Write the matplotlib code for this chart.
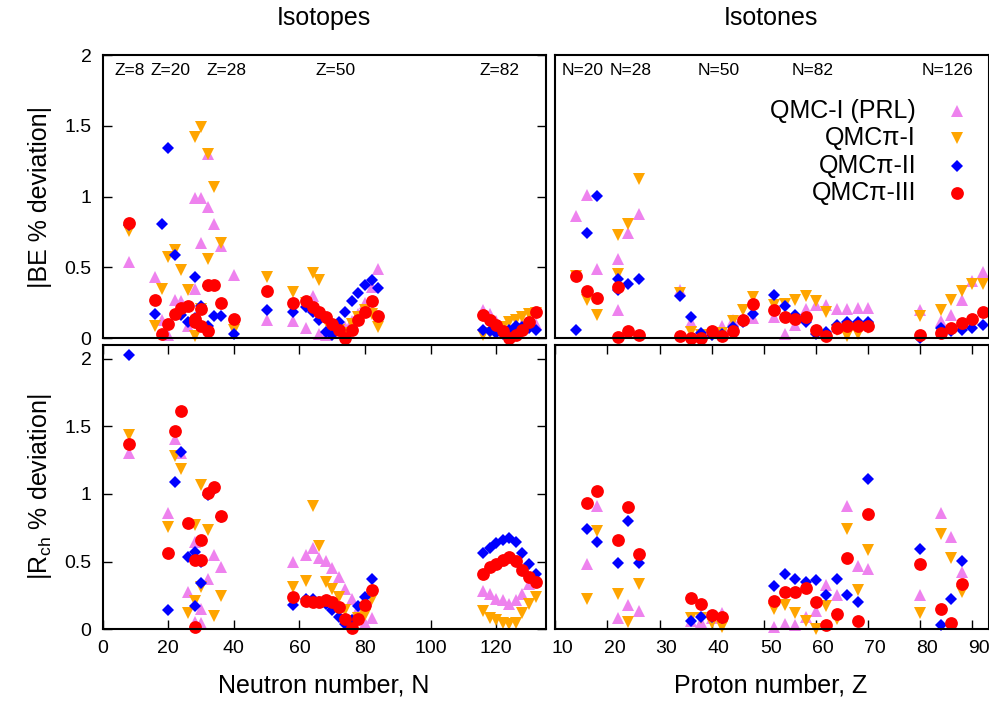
import matplotlib
matplotlib.use("Agg")
import matplotlib.pyplot as plt
import matplotlib.transforms as mtransforms
from matplotlib.lines import Line2D

plt.rcParams["font.family"] = ["Liberation Sans", "DejaVu Sans"]
plt.rcParams["mathtext.fontset"] = "custom"
plt.rcParams["mathtext.rm"] = "Liberation Sans"

SERIES = ["QMC-I (PRL)", "QMCπ-I", "QMCπ-II", "QMCπ-III"]

# |BE| deviation, isotope chains (O, Ca, Ni, Sn, Pb) vs neutron number
BE_N = [8,
        16, 18, 20, 22, 24, 26, 28, 30, 32,
        28, 30, 32, 34, 36, 40,
        50, 58, 62, 64, 66, 68, 70, 72, 74, 76, 78, 80, 82, 84,
        116, 118, 120, 122, 124, 126, 128, 130, 132]
BE_N_PRL = [0.54,
            0.43, 0.13, 0.02, 0.27, 0.26, 0.09, 0.35, 0.67, 0.93,
            0.99, 0.99, 1.30, 0.81, 0.65, 0.45,
            0.13, 0.12, 0.07, 0.30, 0.03, 0.02, 0.04, 0.06, 0.08, 0.12, 0.17, 0.25, 0.36, 0.49,
            0.20, 0.17, 0.12, 0.07, 0.04, 0.07, 0.10, 0.12, 0.10]
BE_N_PI1 = [0.76,
            0.085, 0.35, 0.575, 0.62, 0.48, 0.34, 0.014, 0.21, 0.56,
            1.42, 1.49, 1.30, 1.07, 0.67, 0.056,
            0.43, 0.33, 0.25, 0.46, 0.41, 0.12, 0.06, 0.057, 0.04, 0.10, 0.15, 0.20, 0.17, 0.08,
            0.02, 0.04, 0.06, 0.08, 0.115, 0.13, 0.15, 0.17, 0.18]
BE_N_PI2 = [0.80,
            0.175, 0.81, 1.345, 0.59, 0.163, 0.115, 0.43, 0.226, 0.085,
            0.14, 0.09, 0.37, 0.158, 0.158, 0.028,
            0.198, 0.186, 0.221, 0.186, 0.132, 0.045, 0.021, 0.115, 0.186, 0.264, 0.32, 0.375, 0.415, 0.358,
            0.057, 0.05, 0.04, 0.03, 0.06, 0.09, 0.08, 0.07, 0.06]
BE_N_PI3 = [0.815,
            0.273, 0.028, 0.104, 0.175, 0.217, 0.226, 0.139, 0.085, 0.052,
            0.115, 0.21, 0.375, 0.375, 0.252, 0.139,
            0.332, 0.252, 0.264, 0.221, 0.186, 0.151, 0.104, 0.061, 0.005, 0.061, 0.127, 0.186, 0.264, 0.158,
            0.163, 0.132, 0.092, 0.049, 0.005, 0.02, 0.057, 0.115, 0.186]

# |BE| deviation, isotone chains vs proton number
BE_Z = [14, 16, 18, 22, 22, 24, 26,
        34, 36, 38, 40, 42, 44, 46, 48,
        52, 54, 56, 58, 60, 62, 64, 66, 68, 70,
        80, 84, 86, 88, 90, 92]
BE_Z_PRL = [0.865, 1.01, 0.49, 0.558, 0.198, 0.744, 0.88,
            0.34, 0.115, 0.03, 0.05, 0.09, 0.127, 0.14, 0.144,
            0.15, 0.028, 0.092, 0.21, 0.233, 0.233, 0.21, 0.21, 0.217, 0.217,
            0.2, 0.12, 0.163, 0.273, 0.405, 0.469]
BE_Z_PI1 = [0.44, 0.27, 0.163, 0.728, 0.452, 0.81, 1.124,
            0.32, 0.045, 0.02, 0.02, 0.04, 0.122, 0.2, 0.292,
            0.233, 0.245, 0.273, 0.297, 0.264, 0.186, 0.06, 0.014, 0.028, 0.07,
            0.158, 0.2, 0.273, 0.334, 0.38, 0.38]
BE_Z_PI2 = [0.061, 0.744, 1.006, 0.42, 0.34, 0.386, 0.417,
            0.297, 0.15, 0.038, 0.02, 0.03, 0.08, 0.115, 0.174,
            0.309, 0.226, 0.163, 0.115, 0.033, 0.045, 0.092, 0.115, 0.115, 0.115,
            0.005, 0.075, 0.052, 0.061, 0.075, 0.092]
BE_Z_PI3 = [0.44, 0.334, 0.285, 0.363, 0.009, 0.05, 0.026,
            0.016, 0.005, 0.005, 0.05, 0.016, 0.05, 0.127, 0.24,
            0.198, 0.151, 0.139, 0.151, 0.061, 0.016, 0.075, 0.085, 0.085, 0.085,
            0.026, 0.038, 0.075, 0.108, 0.139, 0.186]

# |Rch| deviation, isotopes vs neutron number
RCH_N = [8,
         20, 22, 24, 26, 28, 30,
         28, 30, 32, 34, 36,
         58, 62, 64, 66, 68, 70, 72, 74, 76, 78, 80, 82,
         116, 118, 120, 122, 124, 126, 128, 130, 132]
RCH_N_PRL = [1.30,
             0.857, 1.407, 1.30, 0.277, 0.054, 0.047,
             0.647, 0.153, 0.368, 0.548, 0.457,
             0.499, 0.548, 0.598, 0.523, 0.506, 0.454, 0.383, 0.301, 0.227, 0.153, 0.05, 0.084,
             0.281, 0.264, 0.227, 0.215, 0.19, 0.215, 0.264, 0.338, 0.36]
RCH_N_PI1 = [1.432,
             0.758, 1.277, 1.183, 0.123, 0.21, 0.314,
             0.77, 1.067, 0.733, 0.099, 0.244,
             0.309, 0.356, 0.914, 0.617, 0.35, 0.301, 0.24, 0.141, 0.06, 0.08, 0.109, 0.227,
             0.133, 0.084, 0.067, 0.049, 0.042, 0.049, 0.123, 0.19, 0.24]
RCH_N_PI2 = [2.025,
             0.141, 1.086, 1.309, 0.531, 0.17, 0.5,
             0.573, 0.343, 0.993, 1.04, 0.83,
             0.183, 0.227, 0.227, 0.2, 0.19, 0.141, 0.091, 0.042, 0.067, 0.173, 0.24, 0.375,
             0.56, 0.598, 0.635, 0.66, 0.677, 0.647, 0.56, 0.479, 0.405]
RCH_N_PI3 = [1.368,
             0.565, 1.462, 1.615, 0.783, 0.017, 0.511,
             0.511, 0.659, 1.01, 1.054, 0.837,
             0.235, 0.21, 0.2, 0.2, 0.22, 0.198, 0.165, 0.079, 0.01, 0.079, 0.178, 0.289,
             0.412, 0.462, 0.486, 0.511, 0.536, 0.504, 0.437, 0.388, 0.35]

# |Rch| deviation, isotones vs proton number
RCH_Z = [16, 18, 22, 24, 26,
         36, 38, 40, 42,
         52, 54, 56, 58, 60, 62, 64, 66, 68, 70,
         80, 84, 86, 88]
RCH_Z_PRL = [0.479, 0.914, 0.086, 0.183, 0.133,
             0.06, 0.054, 0.08, 0.123,
             0.017, 0.042, 0.035, 0.091, 0.133, 0.326, 0.252, 0.914, 0.469, 0.444,
             0.252, 0.857, 0.679, 0.42]
RCH_Z_PI1 = [0.227, 0.726, 0.264, 0.054, 0.338,
             0.084, 0.08, 0.049, 0.017,
             0.148, 0.183, 0.123, 0.059, 0.005, 0.173, 0.079, 0.738, 0.289, 0.585,
             0.123, 0.701, 0.523, 0.277]
RCH_Z_PI2 = [0.741, 0.647, 0.491, 0.8, 0.491,
             0.059, 0.091, 0.09, 0.08,
             0.321, 0.412, 0.375, 0.351, 0.363, 0.257, 0.375, 0.252, 0.202, 1.109,
             0.59, 0.035, 0.222, 0.504]
RCH_Z_PI3 = [0.931, 1.025, 0.659, 0.906, 0.553,
             0.232, 0.185, 0.104, 0.091,
             0.21, 0.272, 0.272, 0.306, 0.202, 0.035, 0.116, 0.528, 0.059, 0.849,
             0.481, 0.153, 0.049, 0.331]

Y_TICKS = [0, 0.5, 1, 1.5, 2]
Y_TICK_LABELS = ["0", "0.5", "1", "1.5", "2"]
N_TICKS = [0, 20, 40, 60, 80, 100, 120]
Z_TICKS = [10, 20, 30, 40, 50, 60, 70, 80, 90]

ISOTOPE_TAGS = [("Z=8", 0.061), ("Z=20", 0.154), ("Z=28", 0.280), ("Z=50", 0.525), ("Z=82", 0.896)]
ISOTONE_TAGS = [("N=20", 0.064), ("N=28", 0.175), ("N=50", 0.377), ("N=82", 0.594), ("N=126", 0.906)]

MARKERS = [("^", "#EE82EE", 8.0), ("v", "#FFA500", 8.0), ("D", "#0000FF", 6.3), ("o", "#FF0000", 9.2)]

W, H = 989, 702
fig = plt.figure(figsize=(W / 100, H / 100), dpi=100)


def px_rect(x0, x1, ytop, ybot):
    return [x0 / W, 1 - ybot / H, (x1 - x0) / W, (ybot - ytop) / H]


ax_be_n = fig.add_axes(px_rect(102.7, 546, 55, 338.3))
ax_be_z = fig.add_axes(px_rect(555.3, 988.5, 55, 338.3))
ax_r_n = fig.add_axes(px_rect(102.7, 546, 345, 629.3))
ax_r_z = fig.add_axes(px_rect(555.3, 988.5, 345, 629.3))

panels = [
    (ax_be_n, BE_N, [BE_N_PRL, BE_N_PI1, BE_N_PI2, BE_N_PI3]),
    (ax_be_z, BE_Z, [BE_Z_PRL, BE_Z_PI1, BE_Z_PI2, BE_Z_PI3]),
    (ax_r_n, RCH_N, [RCH_N_PRL, RCH_N_PI1, RCH_N_PI2, RCH_N_PI3]),
    (ax_r_z, RCH_Z, [RCH_Z_PRL, RCH_Z_PI1, RCH_Z_PI2, RCH_Z_PI3]),
]

for ax, xs, ys_all in panels:
    for (mk, col, ms), ys, name in zip(MARKERS, ys_all, SERIES):
        ax.plot(xs, ys, linestyle="none", marker=mk, color=col, markersize=ms,
                markeredgewidth=0, label=name, clip_on=False)
    for sp in ax.spines.values():
        sp.set_linewidth(1.5)
    ax.tick_params(direction="in", length=6.5, width=1.0, labelsize=14, pad=8,
                   bottom=False, top=False, left=False, right=False,
                   labelbottom=False, labelleft=False)

for ax in (ax_be_n, ax_r_n):
    ax.set_xlim(0, 135.2)
    ax.set_xticks(N_TICKS)
    ax.set_yticks(Y_TICKS, labels=Y_TICK_LABELS)
    ax.tick_params(axis="y", left=True, right=True, labelleft=True)
for ax in (ax_be_z, ax_r_z):
    ax.set_xlim(10, 93.1)
    ax.set_xticks(Z_TICKS)
    ax.set_yticks(Y_TICKS)
for ax in (ax_r_n, ax_r_z):
    ax.tick_params(axis="x", bottom=True, top=True, labelbottom=True)

# the proton-number labels sit a little right of their tics in the original
shift = mtransforms.ScaledTranslation(7 / 100, 0, fig.dpi_scale_trans)
for tick in ax_r_z.xaxis.get_major_ticks():
    tick.label1.set_transform(tick.label1.get_transform() + shift)

ax_be_n.set_ylim(0, 2)
ax_be_z.set_ylim(0, 2)
ax_r_n.set_ylim(0, 2.1)
ax_r_z.set_ylim(0, 2.1)

for text, xf in ISOTOPE_TAGS:
    ax_be_n.text(xf, 0.945, text, transform=ax_be_n.transAxes, ha="center", va="center", fontsize=12.5)
for text, xf in ISOTONE_TAGS:
    ax_be_z.text(xf, 0.945, text, transform=ax_be_z.transAxes, ha="center", va="center", fontsize=12.5)

# gnuplot-style key: right-aligned labels with the symbol to their right
for i, ((mk, col, ms), name) in enumerate(zip(MARKERS, SERIES)):
    yk = 1 - (111 + 27.3 * i) / H
    fig.text(916 / W, yk, name, ha="right", va="center", fontsize=18)
    fig.add_artist(Line2D([957 / W], [yk], transform=fig.transFigure, linestyle="none",
                          marker=mk, color=col, markersize=ms, markeredgewidth=0))

fig.text(324 / W, 1 - 18 / H, "Isotopes", ha="center", va="center", fontsize=18)
fig.text(771 / W, 1 - 18 / H, "Isotones", ha="center", va="center", fontsize=18)
fig.text(324 / W, 1 - 685 / H, "Neutron number, N", ha="center", va="center", fontsize=18)
fig.text(771 / W, 1 - 685 / H, "Proton number, Z", ha="center", va="center", fontsize=18)
fig.text(40 / W, 1 - 196.5 / H, "|BE % deviation|", ha="center", va="center", rotation=90, fontsize=18)
fig.text(40 / W, 1 - 487 / H, r"|R$_{\mathrm{ch}}$ % deviation|", ha="center", va="center",
         rotation=90, fontsize=18)

fig.savefig("out.png", dpi=100)
